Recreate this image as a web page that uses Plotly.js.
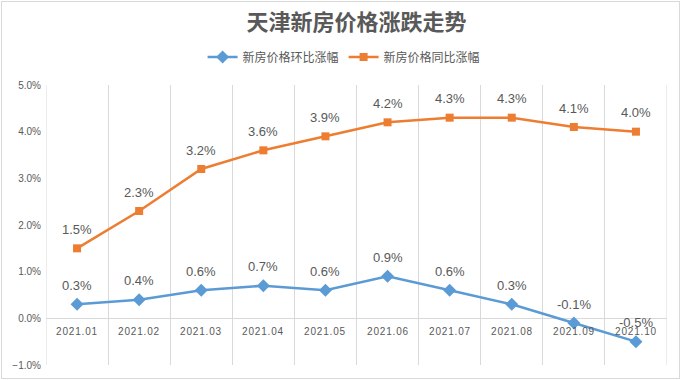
<!DOCTYPE html>
<html><head><meta charset="utf-8">
<script src="https://cdn.plot.ly/plotly-3.0.1.min.js"></script>
<style>html,body{margin:0;padding:0;background:#fff;}#wrap{position:relative;width:681px;height:380px;}#frame{position:absolute;left:1px;top:1px;width:677px;height:376px;border:1px solid #d9d9d9;pointer-events:none;}</style>
</head><body>
<div id="wrap"><div id="chart" style="width:681px;height:380px;"></div><div id="frame"></div></div>
<script>
const months = ["2021.01","2021.02","2021.03","2021.04","2021.05","2021.06","2021.07","2021.08","2021.09","2021.10"];
const momGrowth = [0.3,0.4,0.6,0.7,0.6,0.9,0.6,0.3,-0.1,-0.5];
const yoyGrowth = [1.5,2.3,3.2,3.6,3.9,4.2,4.3,4.3,4.1,4.0];
const seriesNames = ["新房价格环比涨幅","新房价格同比涨幅"];
const titleText = "天津新房价格涨跌走势";

const gray = "#595959";
const font = "'Noto Sans CJK SC', 'Liberation Sans', sans-serif";
const numFont = "'Liberation Sans', sans-serif";

const traces = [
  {x: months, y: momGrowth, name: seriesNames[0], type: "scatter", mode: "lines+markers",
   line: {color: "#5B9BD5", width: 2.5}, marker: {symbol: "diamond", size: 10, color: "#5B9BD5"}},
  {x: months, y: yoyGrowth, name: seriesNames[1], type: "scatter", mode: "lines+markers",
   line: {color: "#ED7D31", width: 2.5}, marker: {symbol: "square", size: 8, color: "#ED7D31"}}
];

const annotations = [];
months.forEach((m, i) => {
  annotations.push({x: i, y: 0, xref: "x", yref: "y", text: m.split("").join("\u200A"), showarrow: false,
    yanchor: "top", yshift: -6, font: {family: numFont, size: 10, color: gray}});
});
[momGrowth, yoyGrowth].forEach(series => {
  series.forEach((v, i) => {
    annotations.push({x: i, y: v, xref: "x", yref: "y", text: v.toFixed(1) + "%", showarrow: false,
      yanchor: "middle", yshift: 19, font: {family: numFont, size: 13, color: gray}});
  });
});

const layout = {
  width: 681, height: 380,
  margin: {l: 46, r: 14, t: 85, b: 15},
  paper_bgcolor: "#fff", plot_bgcolor: "#fff",
  title: {text: titleText, x: 0.5, xref: "paper", xanchor: "center", y: 0.942, yanchor: "middle",
    font: {family: font, size: 22, color: gray, weight: "bold"}},
  showlegend: true,
  legend: {orientation: "h", x: 0.48, xanchor: "center", y: 1.1, yanchor: "middle",
    font: {family: font, size: 12, color: gray}, itemwidth: 30, tracegroupgap: 0},
  xaxis: {type: "category", range: [-0.5, 9.5], showgrid: true, tickson: "boundaries",
    gridcolor: "#d9d9d9", gridwidth: 1, showticklabels: false, ticks: "", showline: false, zeroline: false, fixedrange: true},
  yaxis: {range: [-1, 5], dtick: 1, tickformat: ".1f", ticksuffix: "%", showgrid: false,
    zeroline: true, zerolinecolor: "#d9d9d9", zerolinewidth: 1, showline: false,
    tickfont: {family: numFont, size: 10, color: gray}, ticklabelstandoff: 4, fixedrange: true},
  shapes: [-0.5, 9.5].map(b => ({type: "line", xref: "x", yref: "paper", x0: b, x1: b, y0: 0, y1: 1,
    line: {color: "#d9d9d9", width: 1}, layer: "below"})),
  annotations: annotations
};

Plotly.newPlot("chart", traces, layout, {displayModeBar: false, staticPlot: true});
</script>
</body></html>
